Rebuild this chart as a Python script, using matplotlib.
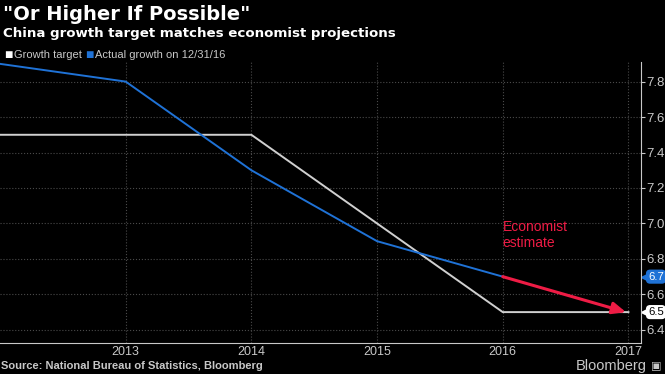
import matplotlib.pyplot as plt

# data
years = [2012, 2013, 2014, 2015, 2016, 2017]
growth_target = [7.5, 7.5, 7.5, 7.0, 6.5, 6.5]
actual_years = [2012, 2013, 2014, 2015, 2016]
actual_growth = [7.9, 7.8, 7.3, 6.9, 6.7]
estimate_years = [2016, 2017]
estimate_values = [6.7, 6.5]
y_ticks = [6.4, 6.6, 6.8, 7.0, 7.2, 7.4, 7.6, 7.8]
x_ticks = [2013, 2014, 2015, 2016, 2017]

BG = '#000000'
GRID = '#4a4a4a'
TEXT = '#c8c8c8'
BLUE = '#1f72d6'
WHITE = '#d0d0d0'
RED = '#ee1c45'

plt.rcParams['font.family'] = ['Liberation Sans', 'DejaVu Sans']

Y0, Y1 = 6.326, 7.91


def badge(ax, value, fc, tc):
    # value flag sitting on the right axis
    yy = (value - Y0) / (Y1 - Y0)
    ax.plot([1.0 + 4.5 / 641], [yy], marker='<', ms=7, color=fc, mec=fc,
            transform=ax.transAxes, clip_on=False)
    ax.text(1.0 + 7 / 641, yy, '%.1f' % value, transform=ax.transAxes,
            color=tc, fontsize=8.2, va='center', ha='left',
            bbox=dict(boxstyle='round,pad=0.12,rounding_size=0.3', fc=fc, ec=fc))


def main():
    fig = plt.figure(figsize=(6.65, 3.74), dpi=100, facecolor=BG)
    ax = fig.add_axes([0.0, 0.083, 641 / 665, 0.751])
    ax.set_facecolor(BG)

    ax.plot(years, growth_target, color=WHITE, lw=1.4)
    ax.plot(actual_years, actual_growth, color=BLUE, lw=1.4)
    ax.annotate('', xy=(estimate_years[1] - 0.02, estimate_values[1]),
                xytext=(estimate_years[0], estimate_values[0]),
                arrowprops=dict(arrowstyle='-|>,head_length=0.8,head_width=0.35',
                                color=RED, lw=2.2, shrinkA=0, shrinkB=0))
    ax.text(2016, 6.85, 'Economist\nestimate', color=RED, fontsize=10,
            ha='left', va='bottom', linespacing=1.15)

    ax.set_xlim(2012, 2017.1)
    ax.set_ylim(Y0, Y1)
    ax.set_xticks(x_ticks)
    ax.set_yticks(y_ticks)
    ax.set_yticklabels(['%.1f' % v for v in y_ticks])
    ax.yaxis.tick_right()
    ax.tick_params(axis='y', colors=TEXT, labelsize=9.5, length=3, pad=1)
    ax.tick_params(axis='x', colors=TEXT, labelsize=9, length=0, pad=2)
    ax.grid(True, color=GRID, ls=':', lw=0.8)

    for side in ['top', 'left']:
        ax.spines[side].set_visible(False)
    ax.spines['right'].set_color(TEXT)
    ax.spines['bottom'].set_color(TEXT)

    badge(ax, 6.7, BLUE, 'white')
    badge(ax, 6.5, 'white', 'black')

    fig.text(0.005, 0.962, '"Or Higher If Possible"', color='white', fontsize=14,
             fontweight='bold', family='DejaVu Sans', va='center')
    fig.text(0.005, 0.91, 'China growth target matches economist projections',
             color='white', fontsize=9.6, fontweight='bold', family='DejaVu Sans',
             va='center')

    # legend
    fig.text(0.006, 0.852, '\u25a0', color='white', fontsize=10, va='center')
    fig.text(0.021, 0.852, 'Growth target', color=TEXT, fontsize=8, va='center')
    fig.text(0.128, 0.852, '\u25a0', color=BLUE, fontsize=10, va='center')
    fig.text(0.143, 0.852, 'Actual growth on 12/31/16', color=TEXT, fontsize=8,
             va='center')

    fig.text(0.002, 0.021, 'Source: National Bureau of Statistics, Bloomberg',
             color=TEXT, fontsize=8, fontweight='bold', va='center')
    fig.text(0.973, 0.021, 'Bloomberg', color=TEXT, fontsize=10.5, ha='right',
             va='center')
    fig.text(0.995, 0.021, '\u25a3', color=TEXT, fontsize=8, ha='right',
             va='center', family='DejaVu Sans')

    fig.savefig('out.png', dpi=100, facecolor=BG)


if __name__ == '__main__':
    main()
